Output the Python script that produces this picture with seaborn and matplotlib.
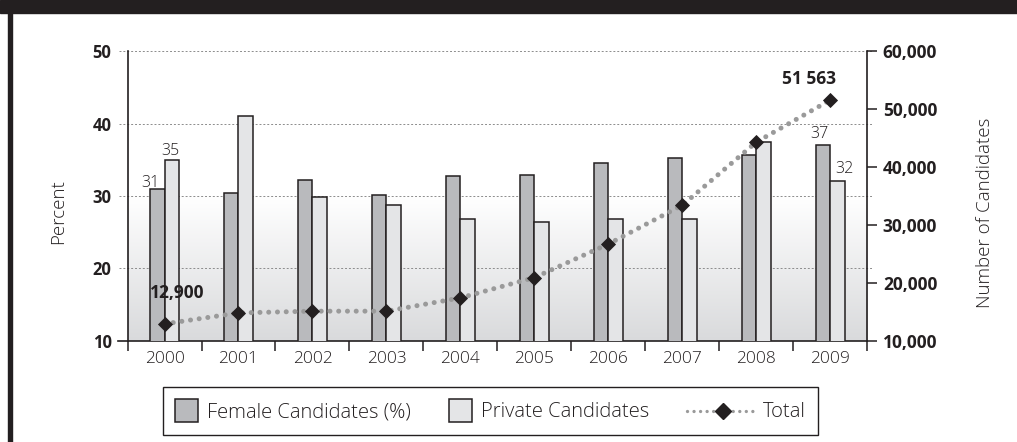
import numpy as np
import pandas as pd
import matplotlib
matplotlib.use("Agg")
import matplotlib.pyplot as plt
import seaborn as sns
from matplotlib.lines import Line2D
from matplotlib.patches import Patch, Rectangle
from matplotlib.legend_handler import HandlerBase
from matplotlib.colors import LinearSegmentedColormap

# ---- data -------------------------------------------------------------
years = ["2000", "2001", "2002", "2003", "2004",
         "2005", "2006", "2007", "2008", "2009"]
female_pct = [31, 30.4, 32.2, 30.1, 32.7, 32.9, 34.6, 35.3, 35.7, 37]
private_pct = [35, 41.0, 29.9, 28.7, 26.8, 26.4, 26.8, 26.8, 37.5, 32]
total_candidates = [12900, 14800, 15100, 15100, 17400,
                    20900, 26700, 33400, 44300, 51563]
series_names = ["Female Candidates (%)", "Private Candidates"]
total_name = "Total"
percent_ticks = [10, 20, 30, 40, 50]
count_ticks = [10000, 20000, 30000, 40000, 50000, 60000]
percent_label = "Percent"
count_label = "Number of Candidates"

# ---- style ------------------------------------------------------------
INK = "#231f20"
FEMALE_C = "#b9babd"
PRIVATE_C = "#e4e5e7"
LINE_C = "#9a9a9a"
GRID_C = "#8c8c8c"
PLOT_DOTS = (0, (0.01, 1.74))
LEGEND_DOTS = (0, (0.01, 1.95))

sns.set_theme(style="white")
plt.rcParams["font.family"] = ["Open Sans", "DejaVu Sans"]

fig = plt.figure(figsize=(10.17, 4.42), dpi=100)
fig.patch.set_facecolor("white")
ax = fig.add_axes([0.1254, 0.2292, 0.7274, 0.6550])
ax.patch.set_facecolor("white")

# ---- bars -------------------------------------------------------------
bars_df = pd.DataFrame({
    "Year": years * 2,
    "Percent": female_pct + private_pct,
    "Series": [series_names[0]] * len(years) + [series_names[1]] * len(years),
})
sns.barplot(data=bars_df, x="Year", y="Percent", hue="Series",
            hue_order=series_names, palette=[FEMALE_C, PRIVATE_C],
            saturation=1, width=0.39, edgecolor=INK, linewidth=1.1,
            legend=False, zorder=3, ax=ax)

# soft shading in the lower part of the plot area
shade = LinearSegmentedColormap.from_list("shade", ["#ffffff", "#d9dadc"])
ax.imshow(np.linspace(0, 1, 256).reshape(-1, 1), cmap=shade, aspect="auto",
          extent=(-0.5, len(years) - 0.5, percent_ticks[0], percent_ticks[2]),
          origin="upper", interpolation="bilinear", zorder=0)
ax.set_xlim(-0.5, len(years) - 0.5)
ax.set_ylim(percent_ticks[0], percent_ticks[-1])

# dotted guide lines, running slightly past both spines
for yv in percent_ticks[1:]:
    ax.axhline(yv, xmin=-0.011, xmax=1.007, clip_on=False, color=GRID_C,
               lw=0.7, ls=(0, (2, 2)), zorder=1)

# ---- total line on the secondary axis ----------------------------------
ax2 = ax.twinx()
sns.pointplot(x=years, y=total_candidates, errorbar=None, markers="D",
              color=INK, ax=ax2)
total_line = ax2.lines[0]
total_line.set_color(LINE_C)
total_line.set_linewidth(3.6)
total_line.set_linestyle(PLOT_DOTS)
total_line.set_dash_capstyle("round")
total_line.set_marker("D")
total_line.set_markersize(7.6)
total_line.set_markerfacecolor(INK)
total_line.set_markeredgecolor(INK)
total_line.set_markeredgewidth(0.6)
total_line.set_zorder(4)
ax2.set_ylim(count_ticks[0], count_ticks[-1])
ax2.set_xlim(-0.5, len(years) - 0.5)

# ---- axes, ticks, spines ----------------------------------------------
for side in ("top", "right"):
    ax.spines[side].set_visible(False)
for side in ("top", "left", "bottom"):
    ax2.spines[side].set_visible(False)
for sp in (ax.spines["left"], ax.spines["bottom"], ax2.spines["right"]):
    sp.set_color(INK)
    sp.set_linewidth(1.2)
ax.spines["bottom"].set_bounds(-0.63, len(years) - 0.5)

ax.set_xticks(range(len(years)))
ax.set_xticklabels(years)
ax.set_xticks(np.arange(-0.5, len(years), 1.0), minor=True)
ax.tick_params(axis="x", which="major", length=0, pad=7.5, labelsize=12.5,
               labelcolor=INK)
ax.tick_params(axis="x", which="minor", length=7.2, width=1.1, color=INK,
               direction="out", bottom=True)
for t in ax.get_xticklabels():
    t.set_fontweight("light")

ax.set_yticks(percent_ticks)
ax.set_yticklabels([str(v) for v in percent_ticks])
ax.tick_params(axis="y", which="major", length=0, pad=11.5, labelsize=12,
               labelcolor=INK, left=True)
for t in ax.get_yticklabels():
    t.set_fontweight("bold")

ax2.set_yticks(count_ticks)
ax2.set_yticklabels([f"{v:,}" for v in count_ticks])
ax2.tick_params(axis="y", which="major", length=7.2, width=1.1, color=INK,
                direction="out", pad=4, labelsize=12.5, labelcolor=INK,
                right=True)
for t in ax2.get_yticklabels():
    t.set_fontweight("bold")

ax.set_xlabel("")
ax.set_ylabel(percent_label, fontsize=13.5, fontweight="light", color=INK)
ax.yaxis.set_label_coords(-0.082, 0.445)
ax2.set_ylabel(count_label, fontsize=13.5, fontweight="light", color=INK)
ax2.yaxis.set_label_coords(1.147, 0.443)

# ---- value labels -----------------------------------------------------
bar_label_offsets = {
    (0, 0): (-4.7, 1.4), (1, 0): (-0.7, 3.3),
    (0, 9): (-2.9, 5.0), (1, 9): (4.8, 5.8),
}
series_values = [female_pct, private_pct]
for (s, i), (dx, dy) in bar_label_offsets.items():
    bar = ax.containers[s][i]
    v = series_values[s][i]
    ax.annotate(f"{v:.0f}", xy=(bar.get_x() + bar.get_width() / 2, v),
                xytext=(dx, dy), textcoords="offset points", ha="center",
                va="baseline", fontsize=11.5, fontweight="light", color=INK,
                zorder=6)

total_label_offsets = {0: (9.4, 18.4), 9: (-15.3, 11.4)}
for i, (dx, dy) in total_label_offsets.items():
    v = total_candidates[i]
    text = f"{v:,}" if i == 0 else f"{v:,}".replace(",", " ")
    ax2.annotate(text, xy=(i, v), xytext=(dx, dy), textcoords="offset points",
                 ha="center", va="baseline", fontsize=12.5,
                 fontweight="bold", color=INK, zorder=6)

# ---- legend -----------------------------------------------------------
class TotalLegendHandler(HandlerBase):
    """Dotted line with a diamond, drawn in a wider handle box."""

    def __init__(self, width_pts, dots, **kw):
        super().__init__(**kw)
        self.width_pts = width_pts
        self.dots = dots

    def legend_artist(self, legend, orig_handle, fontsize, handlebox):
        handlebox.width = self.width_pts
        w = handlebox.width
        yc = handlebox.height / 2 - handlebox.ydescent
        line = Line2D([0, w], [yc, yc], color=orig_handle.get_color(),
                      lw=orig_handle.get_linewidth(), ls=self.dots,
                      dash_capstyle="round")
        mark = Line2D([w * 0.54], [yc], ls="None", marker="D",
                      markersize=orig_handle.get_markersize(),
                      markerfacecolor=orig_handle.get_markerfacecolor(),
                      markeredgecolor=orig_handle.get_markeredgecolor())
        for a in (line, mark):
            a.set_transform(handlebox.get_transform())
            handlebox.add_artist(a)
        return line


legend_handles = [
    Patch(facecolor=FEMALE_C, edgecolor=INK, linewidth=1.1),
    Patch(facecolor=PRIVATE_C, edgecolor=INK, linewidth=1.1),
    Line2D([], [], color=LINE_C, lw=2.4, marker="D", markersize=8.0,
           markerfacecolor=INK, markeredgecolor=INK),
]
leg = fig.legend(legend_handles, series_names + [total_name],
                 loc="upper left", bbox_to_anchor=(0.1600, 0.1244),
                 bbox_transform=fig.transFigure, ncol=3, frameon=True,
                 fancybox=False, edgecolor=INK, framealpha=1, fontsize=14.5,
                 handlelength=1.14, handleheight=1.40, handletextpad=0.44,
                 columnspacing=1.9, borderpad=0.6, borderaxespad=0,
                 handler_map={legend_handles[2]:
                              TotalLegendHandler(48.2, LEGEND_DOTS)})
leg.get_frame().set_linewidth(1.0)
for t in leg.get_texts():
    t.set_fontweight("light")
    t.set_color(INK)

# ---- page frame -------------------------------------------------------
fig.add_artist(Rectangle((0, 1 - 13 / 442), 1, 13 / 442,
                         transform=fig.transFigure, color=INK, zorder=10))
fig.add_artist(Rectangle((8 / 1017, 0), 3.5 / 1017, 1 - 13 / 442,
                         transform=fig.transFigure, color=INK, zorder=10))

fig.savefig("out.png", dpi=100, facecolor="white")
